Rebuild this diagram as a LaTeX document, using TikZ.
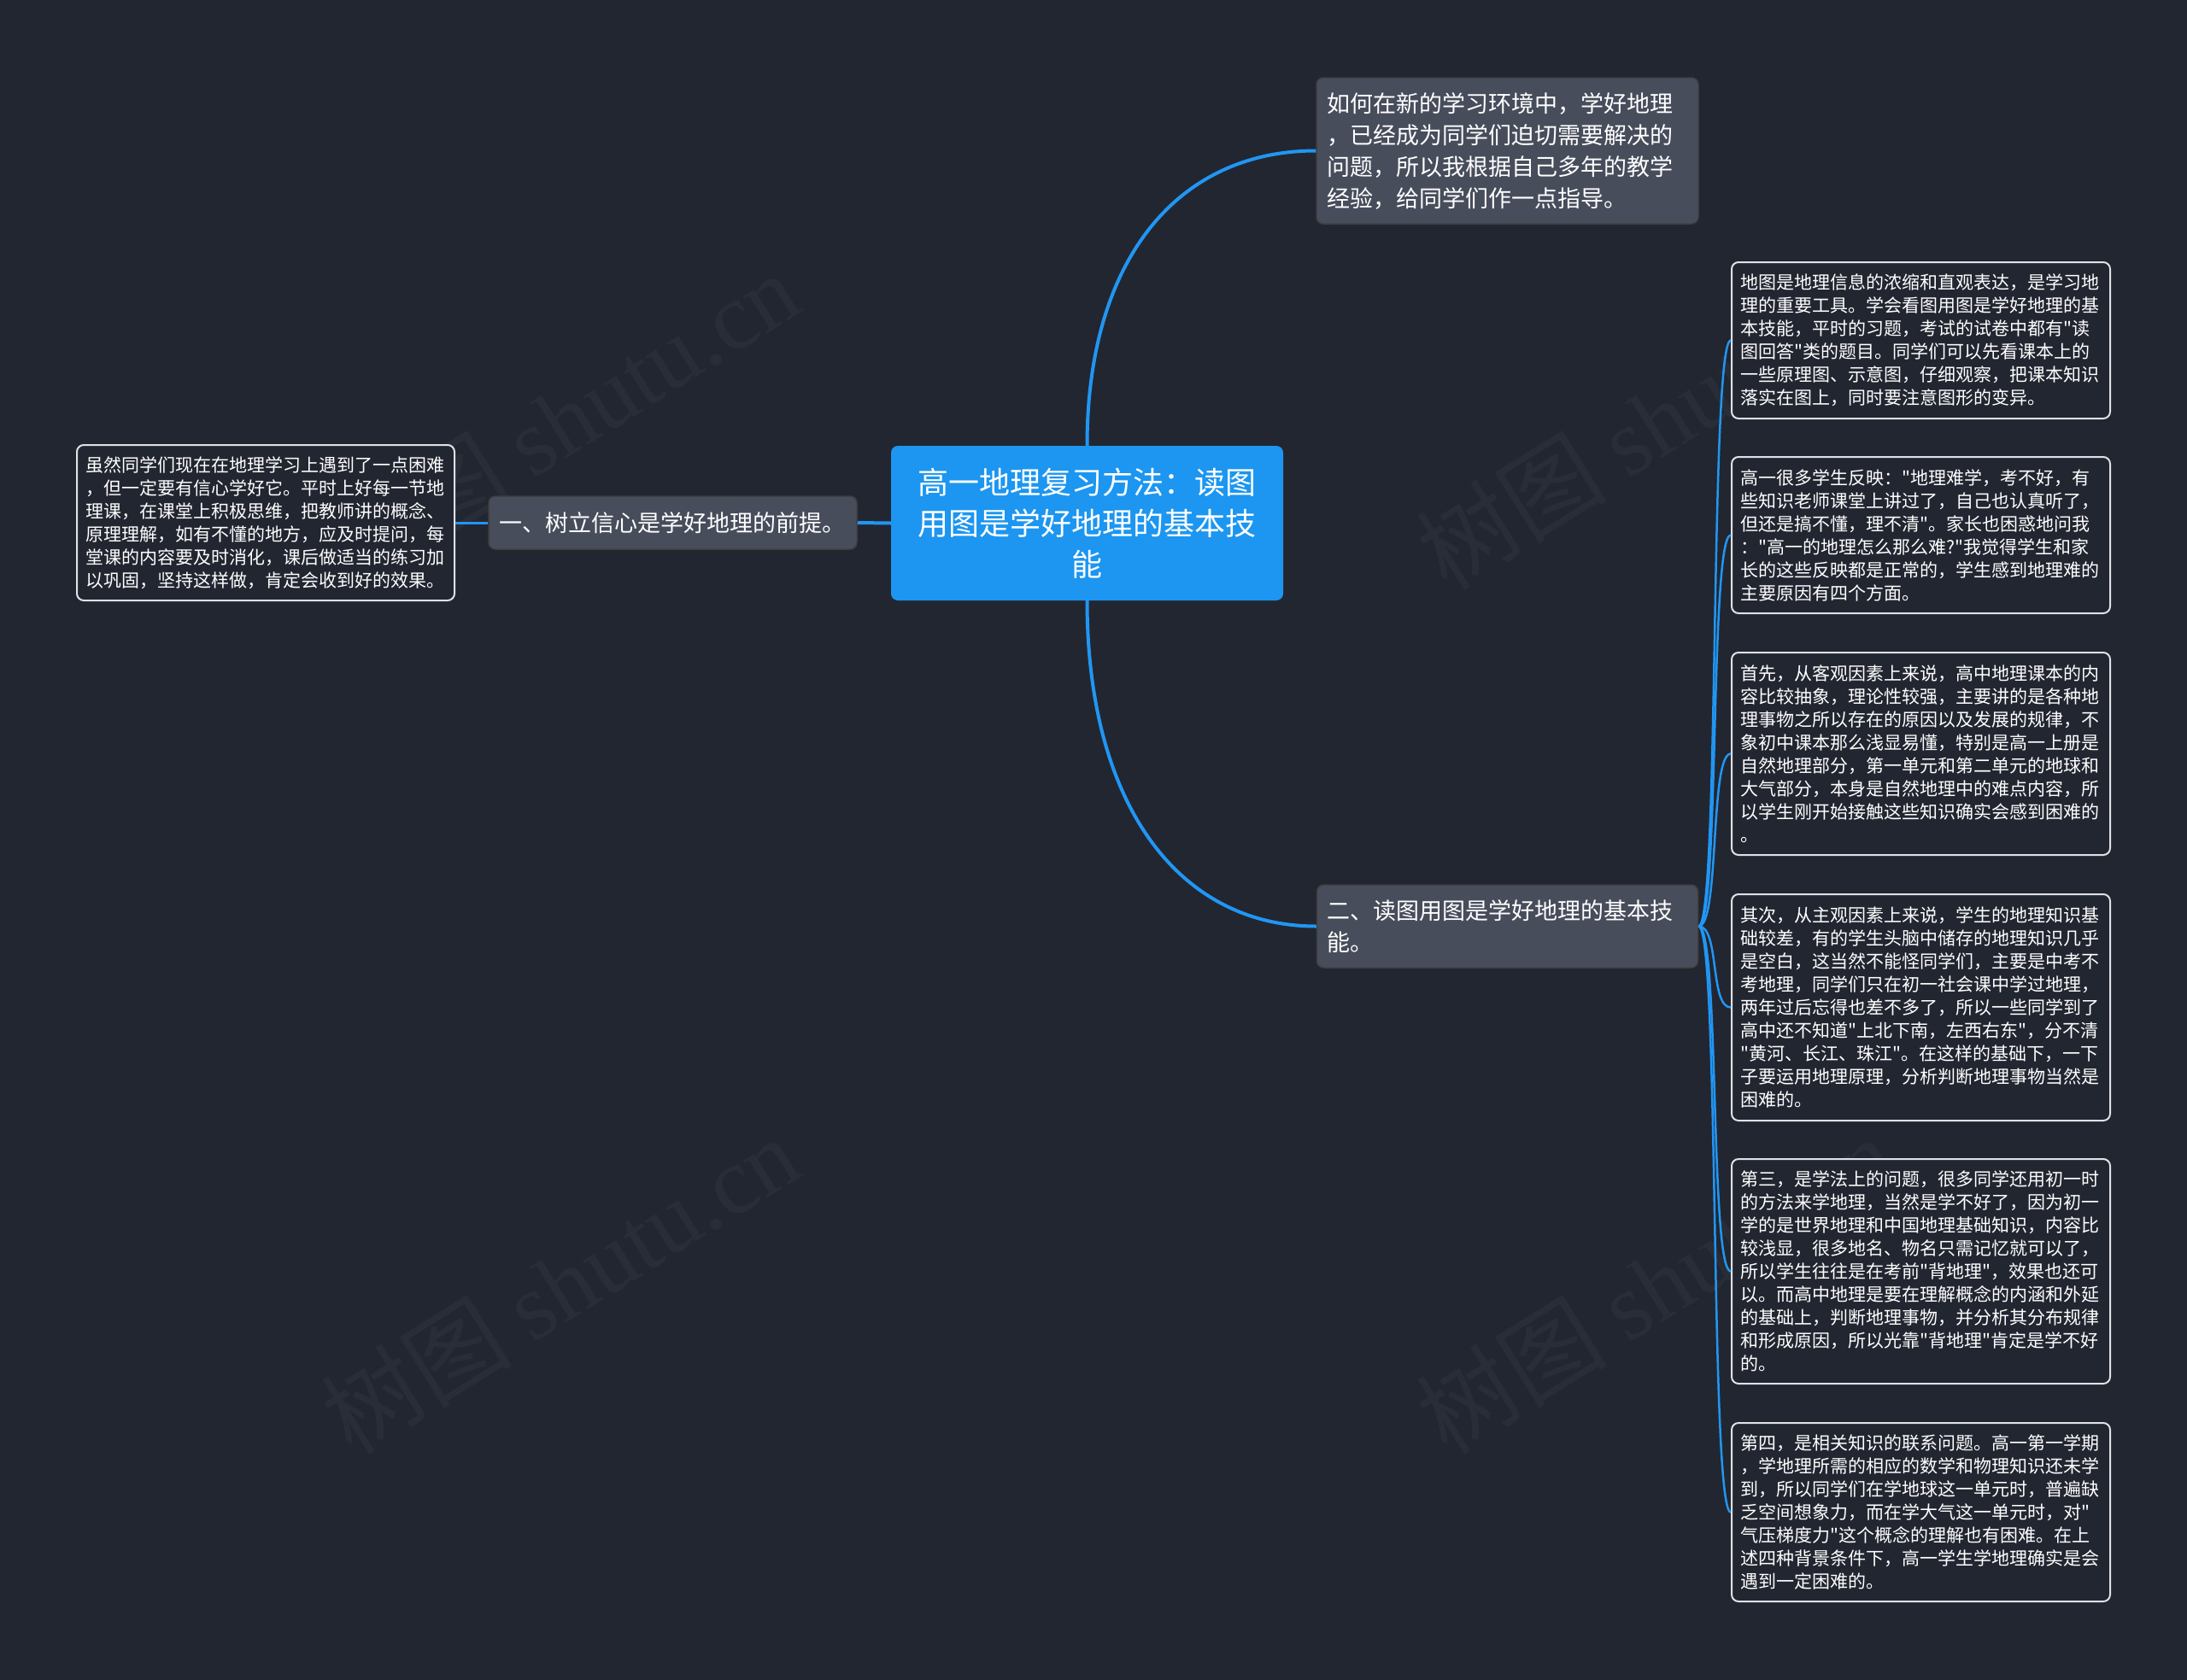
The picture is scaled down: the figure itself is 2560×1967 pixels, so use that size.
\documentclass[tikz,border=0pt]{standalone}
\usepackage{fontspec}
\setmainfont{Noto Sans CJK SC}[Ligatures=TeXOff]
\newfontfamily\wmserif{Liberation Serif}
\usepackage{tikz}
\usetikzlibrary{positioning}
\definecolor{canvas}{RGB}{34, 38, 49}
\definecolor{rootblue}{RGB}{28, 150, 240}
\definecolor{linkblue}{RGB}{33, 150, 243}
\definecolor{branchgray}{RGB}{72, 77, 92}
\definecolor{leafedge}{RGB}{225, 225, 228}

\begin{document}
\begin{tikzpicture}[x=1pt, y=-1pt,
      rootbox/.style   = {fill=rootblue, rounded corners=8pt, text=white,
                          align=center, font=\fontsize{36}{48}\selectfont,
                          text width=400pt, minimum width=459pt,
                          minimum height=181pt, inner sep=0pt},
      branchbox/.style = {draw=black!75, line width=1.5pt, fill=branchgray,
                          rounded corners=8pt, text=white, align=left,
                          font=\fontsize{27}{37}\selectfont,
                          inner xsep=12pt, inner ysep=0pt},
      leafbox/.style   = {draw=leafedge, line width=2pt, fill=canvas,
                          rounded corners=8pt, text=white, align=left,
                          font=\fontsize{21}{27}\selectfont,
                          text width=422pt, inner xsep=10.5pt, inner ysep=0pt},
      link/.style      = {draw=linkblue, line width=4pt},
      twig/.style      = {draw=linkblue, line width=2.5pt},
      wmark/.style     = {text=white, opacity=0.035, rotate=32,
                          font=\fontsize{112}{112}\selectfont},
    ]

    % --- Canvas ---
    \fill[canvas] (0,0) rectangle (2560,1967);
    \useasboundingbox (0,0) rectangle (2560,1967);

    % --- Watermarks ---
    \node[wmark] (wmA) at (655, 492)  {树图 {\wmserif shutu.cn}};
    \node[wmark] (wmB) at (655, 1504) {树图 {\wmserif shutu.cn}};
    \node[wmark] (wmC) at (1937, 492) {树图 {\wmserif shutu.cn}};
    \node[wmark] (wmD) at (1937, 1504) {树图 {\wmserif shutu.cn}};

    % --- Columns (x axis) ---
    \def\xLeft{311}
    \def\xRoot{1272.5}
    \def\xMid{1764.5}
    \def\xLeaf{2248.5}

    % --- Centre ---
    \node[rootbox] (root) at (\xRoot, 612.5)
      {高一地理复习方法：读图\\用图是学好地理的基本技\\能};

    % --- First level ---
    \node[branchbox, text width=423pt, minimum height=171pt] (intro) at (\xMid, 176.5)
      {如何在新的学习环境中，学好地理\\，已经成为同学们迫切需要解决的\\问题，所以我根据自己多年的教学\\经验，给同学们作一点指导。};
    \node[branchbox, text width=407pt, minimum height=62pt] (trust) at (787.5, 612)
      {一、树立信心是学好地理的前提。};
    \node[branchbox, text width=422pt, minimum height=97pt] (maps) at (\xMid, 1084.5)
      {二、读图用图是学好地理的基本技\\能。};

    % --- Left leaf ---
    \node[leafbox, text width=421pt, minimum height=182pt] (trustA) at (\xLeft, 612)
      {虽然同学们现在在地理学习上遇到了一点困难\\，但一定要有信心学好它。平时上好每一节地\\理课，在课堂上积极思维，把教师讲的概念、\\原理理解，如有不懂的地方，应及时提问，每\\堂课的内容要及时消化，课后做适当的练习加\\以巩固，坚持这样做，肯定会收到好的效果。};

    % --- Right leaves ---
    \node[leafbox, minimum height=183pt] (leaf1) at (\xLeaf, 398.5)
      {地图是地理信息的浓缩和直观表达，是学习地\\理的重要工具。学会看图用图是学好地理的基\\本技能，平时的习题，考试的试卷中都有"读\\图回答"类的题目。同学们可以先看课本上的\\一些原理图、示意图，仔细观察，把课本知识\\落实在图上，同时要注意图形的变异。};
    \node[leafbox, minimum height=183pt] (leaf2) at (\xLeaf, 626.5)
      {高一很多学生反映："地理难学，考不好，有\\些知识老师课堂上讲过了，自己也认真听了，\\但还是搞不懂，理不清"。家长也困惑地问我\\："高一的地理怎么那么难?"我觉得学生和家\\长的这些反映都是正常的，学生感到地理难的\\主要原因有四个方面。};
    \node[leafbox, minimum height=237pt] (leaf3) at (\xLeaf, 882.5)
      {首先，从客观因素上来说，高中地理课本的内\\容比较抽象，理论性较强，主要讲的是各种地\\理事物之所以存在的原因以及发展的规律，不\\象初中课本那么浅显易懂，特别是高一上册是\\自然地理部分，第一单元和第二单元的地球和\\大气部分，本身是自然地理中的难点内容，所\\以学生刚开始接触这些知识确实会感到困难的\\。};
    \node[leafbox, minimum height=265pt] (leaf4) at (\xLeaf, 1179.5)
      {其次，从主观因素上来说，学生的地理知识基\\础较差，有的学生头脑中储存的地理知识几乎\\是空白，这当然不能怪同学们，主要是中考不\\考地理，同学们只在初一社会课中学过地理，\\两年过后忘得也差不多了，所以一些同学到了\\高中还不知道"上北下南，左西右东"，分不清\\"黄河、长江、珠江"。在这样的基础下，一下\\子要运用地理原理，分析判断地理事物当然是\\困难的。};
    \node[leafbox, minimum height=263pt] (leaf5) at (\xLeaf, 1488.5)
      {第三，是学法上的问题，很多同学还用初一时\\的方法来学地理，当然是学不好了，因为初一\\学的是世界地理和中国地理基础知识，内容比\\较浅显，很多地名、物名只需记忆就可以了，\\所以学生往往是在考前"背地理"，效果也还可\\以。而高中地理是要在理解概念的内涵和外延\\的基础上，判断地理事物，并分析其分布规律\\和形成原因，所以光靠"背地理"肯定是学不好\\的。};
    \node[leafbox, minimum height=209pt] (leaf6) at (\xLeaf, 1770.5)
      {第四，是相关知识的联系问题。高一第一学期\\，学地理所需的相应的数学和物理知识还未学\\到，所以同学们在学地球这一单元时，普遍缺\\乏空间想象力，而在学大气这一单元时，对"\\气压梯度力"这个概念的理解也有困难。在上\\述四种背景条件下，高一学生学地理确实是会\\遇到一定困难的。};

    % --- Connectors ---
    \draw[link] (root.north) .. controls +(0,-220) and +(-160,0) .. (intro.west);
    \draw[link] (root.south) .. controls +(0,240) and +(-160,0) .. (maps.west);
    \draw[link] (root.west) -- (trust.east);
    \draw[twig, line width=3pt] (trust.west) -- (trustA.east);
    \foreach \n in {1,...,6}{
      \draw[twig] (maps.east) .. controls +(25,0) and +(-25,0) .. (leaf\n.west);
    }

  \end{tikzpicture}
\end{document}
